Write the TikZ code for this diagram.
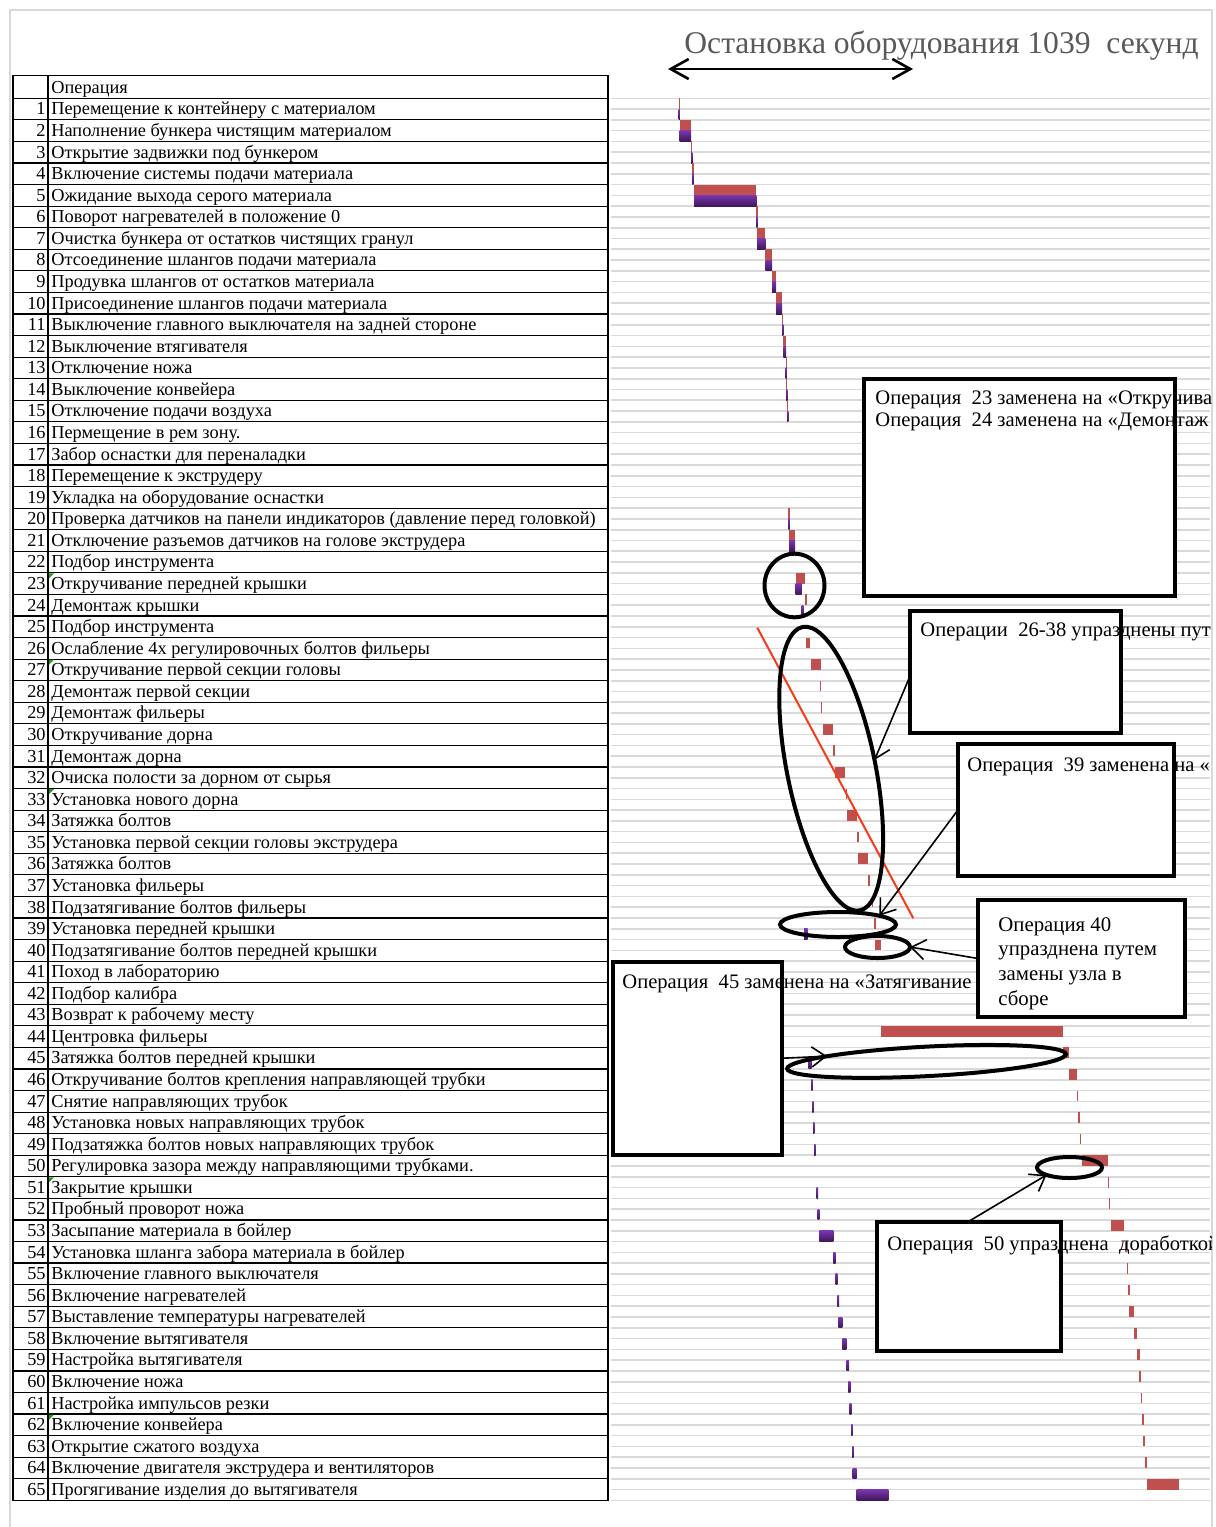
\documentclass[tikz,border=0pt]{standalone}
\usepackage{fontspec}
\setmainfont{Liberation Serif}
\usetikzlibrary{shapes.geometric,arrows.meta}
\definecolor{gridc}{HTML}{D9D9D9}
\definecolor{redbar}{HTML}{C0504D}
\definecolor{purbar}{HTML}{7A35B0}
\definecolor{purdark}{HTML}{3E1858}
\definecolor{titlec}{HTML}{595959}
\definecolor{redline}{HTML}{F53B1A}
\definecolor{xlgreen}{HTML}{1F9A1F}
\tikzset{
 tabline/.style={draw=black, line width=0.6pt},
 rowtxt/.style={anchor=base west, inner sep=0, font=\fontsize{9.15}{10}\selectfont},
 rownum/.style={anchor=base east, inner sep=0, font=\fontsize{9.15}{10}\selectfont},
 gridln/.style={draw=gridc, line width=0.8pt},
 redb/.style={fill=redbar},
 purb/.style={top color=purbar, bottom color=purdark},
 cbox/.style={rectangle, fill=white, draw=black, line width=2pt, inner sep=0, outer sep=0, anchor=north west},
 cborder/.style={draw=black, line width=2pt},
 ctext/.style={anchor=base west, inner sep=0, font=\fontsize{10.3}{12.3}\selectfont},
 ering/.style={ellipse, draw=black, line width=2pt, inner sep=0, outer sep=0},
 callarrow/.style={draw=black, line width=0.8pt, -{Straight Barb[length=7pt,width=10pt]}},
}
\begin{document}
\begin{tikzpicture}[x=0.5pt,y=-0.5pt]
\useasboundingbox (0,0) rectangle (1216,1527);
\fill[white] (0,0) rectangle (1216,1527);
% frame
\draw[gridc, line width=1pt] (10,1527) -- (10,10) -- (1212,10) -- (1212,1527);
% grid lines
\foreach \k in {0,...,130} {\draw[gridln] (611,{98.3+\k*10.785}) -- (1210,{98.3+\k*10.785});}
% table
\draw[tabline] (13,75.5) rectangle (608,1500.35);
\draw[tabline] (48,75.5) -- (48,1500.35);
\foreach \i in {1,...,65} {\draw[tabline] (13,{98.3+(\i-1)*21.57}) -- (608,{98.3+(\i-1)*21.57});}
\node[rowtxt] (hdr) at (51,93) {Операция};
\foreach \i/\t in {
1/Перемещение к контейнеру с материалом,
2/Наполнение бункера чистящим материалом,
3/Открытие задвижки под бункером,
4/Включение системы подачи материала,
5/Ожидание выхода серого материала,
6/Поворот нагревателей в положение 0,
7/Очистка бункера от остатков чистящих гранул,
8/Отсоединение шлангов подачи материала,
9/Продувка шлангов от остатков материала,
10/Присоединение шлангов подачи материала,
11/Выключение главного выключателя на задней стороне,
12/Выключение втягивателя,
13/Отключение ножа,
14/Выключение конвейера,
15/Отключение подачи воздуха,
16/Пермещение в рем зону.,
17/Забор оснастки для переналадки,
18/Перемещение к экструдеру,
19/Укладка на оборудование оснастки,
20/Проверка датчиков на панели индикаторов (давление перед головкой),
21/Отключение разъемов датчиков на голове экструдера,
22/Подбор инструмента,
23/Откручивание передней крышки,
24/Демонтаж крышки,
25/Подбор инструмента,
26/Ослабление 4х регулировочных болтов фильеры,
27/Откручивание первой секции головы,
28/Демонтаж первой секции,
29/Демонтаж фильеры,
30/Откручивание дорна,
31/Демонтаж дорна,
32/Очиска полости за дорном от сырья,
33/Установка нового дорна,
34/Затяжка болтов,
35/Установка первой секции головы экструдера,
36/Затяжка болтов,
37/Установка фильеры,
38/Подзатягивание болтов фильеры,
39/Установка передней крышки,
40/Подзатягивание болтов передней крышки,
41/Поход в лабораторию,
42/Подбор калибра,
43/Возврат к рабочему месту,
44/Центровка фильеры,
45/Затяжка болтов передней крышки,
46/Откручивание болтов крепления направляющей трубки,
47/Снятие направляющих трубок,
48/Установка новых направляющих трубок,
49/Подзатяжка болтов новых направляющих трубок,
50/Регулировка зазора между направляющими трубками.,
51/Закрытие крышки,
52/Пробный проворот ножа,
53/Засыпание материала в бойлер,
54/Установка шланга забора материала в бойлер,
55/Включение главного выключателя,
56/Включение нагревателей,
57/Выставление температуры нагревателей,
58/Включение вытягивателя,
59/Настройка вытягивателя,
60/Включение ножа,
61/Настройка импульсов резки,
62/Включение конвейера,
63/Открытие сжатого воздуха,
64/Включение двигателя экструдера и вентиляторов,
65/Прогягивание изделия до вытягивателя}
{
 \node[rowtxt] (t\i) at (51,{98.3+(\i-1)*21.57+16.6}) {\t};
 \node[rownum] (n\i) at (46,{98.3+(\i-1)*21.57+16.6}) {\i};
}
% green error marks
\foreach \r in {23,27,33,51,62} {\fill[xlgreen] (49,{98.3+(\r-1)*21.57+0.5}) -- ++(5,0) -- ++(-5,5) -- cycle;}
% bars common to both plans
\foreach \r/\a/\b in {1/678.5/679.8, 2/679.5/691, 3/691/692.3, 4/692.3/693.5, 5/694/756.3, 6/756.3/757.5,
 7/757/765.3, 8/765.3/772, 9/772/776, 10/776/782, 11/782/783.3, 12/783.3/786, 13/785.7/786.9,
 14/786.2/787.4, 15/787.2/788.4, 20/788.3/789.5, 21/789/795}
{
 \fill[redb] (\a,{98.3+(\r-1)*21.57}) rectangle (\b,{98.3+(\r-1)*21.57+10.785});
 \shade[purb] (\a,{98.3+(\r-1)*21.57+10.785}) rectangle (\b,{98.3+(\r-1)*21.57+21.57});
}
% red bars (before)
\foreach \r/\a/\b in {23/795.7/805.3, 24/805.3/806.6, 26/805.7/810, 27/810.7/820.7, 28/820/821.3, 29/820.7/822,
 30/823/833.3, 31/833.3/834.6, 32/834.7/845, 33/845.5/846.8, 34/847/857, 35/857.2/858.5, 36/857.7/867.7,
 37/868.3/870, 38/871.7/873.3, 39/874.3/875.7, 40/875/880.5, 44/880.7/1062.7, 45/1062.7/1069, 46/1069/1076.7,
 47/1077/1078.3, 48/1078.3/1079.6, 49/1079.7/1081.2, 50/1081.7/1107.7, 51/1107.7/1109, 52/1108.7/1110,
 53/1110.7/1124, 54/1125/1127, 55/1126.7/1128.3, 56/1128/1129.7, 57/1129.3/1134.3, 58/1134.3/1137.3,
 59/1137.3/1140, 60/1139.3/1141, 61/1140.7/1142.3, 62/1142/1143.7, 63/1143/1144.7, 64/1144.7/1147.3,
 65/1147.3/1179.3}
{\fill[redb] (\a,{98.3+(\r-1)*21.57}) rectangle (\b,{98.3+(\r-1)*21.57+10.785});}
% purple bars (after)
\foreach \r/\a/\b in {23/795.7/801.7, 24/801.7/803.3, 39/804/807.7, 45/808.3/811.7, 46/811.3/812.6,
 47/812.3/813.6, 48/813/814.3, 49/814/815.5, 51/816.5/818, 52/817.7/819.3, 53/819.3/833.3, 54/833.3/835.7,
 55/835.7/837.3, 56/837.3/839, 57/838.3/842.3, 58/842.3/846.3, 59/846.3/849, 60/848.3/850.3,
 61/849.7/851.3, 62/851/852.7, 63/852/853.7, 64/852.7/856.7, 65/856.7/888.3}
{\shade[purb] (\a,{98.3+(\r-1)*21.57+10.785}) rectangle (\b,{98.3+(\r-1)*21.57+21.57});}
% red trend line
\draw[redline, line width=1pt] (757.3,627.7) -- (913.3,918.3);
% callout boxes
\node[cbox, minimum width=155.5pt, minimum height=108.5pt] (boxA) at (864,379) {};
\node[cbox, minimum width=105.5pt, minimum height=60.75pt] (boxB) at (909.5,611) {};
\node[cbox, minimum width=108pt, minimum height=66.15pt] (boxC) at (958,743.7) {};
\node[cbox, minimum width=84.25pt, minimum height=96.75pt] (boxE) at (613,961.5) {};
\node[cbox, minimum width=92pt, minimum height=64.5pt] (boxF) at (876.5,1221.5) {};
\begin{scope}
\clip (0,0) rectangle (1211,1527);
\node[ctext] (txA1) at (875,404.5) {Операция\ \ 23 заменена на «Откручива};
\node[ctext] (txA2) at (875,426) {Операция\ \ 24 заменена на «Демонтаж};
\node[ctext] (txB) at (920,636.5) {Операции\ \ 26-38 упразднены пут};
\node[ctext] (txC) at (967,771) {Операция\ \ 39 заменена на «};
\node[ctext] (txE) at (622,988) {Операция\ \ 45 заменена на «Затягивание};
\node[ctext] (txF) at (887,1250) {Операция\ \ 50 упразднена\ \ доработкой};
\end{scope}
\draw[cborder] (boxA.north west) rectangle (boxA.south east);
\draw[cborder] (boxB.north west) rectangle (boxB.south east);
\draw[cborder] (boxC.north west) rectangle (boxC.south east);
\draw[cborder] (boxE.north west) rectangle (boxE.south east);
\draw[cborder] (boxF.north west) rectangle (boxF.south east);
\node[cbox, minimum width=103.5pt, minimum height=58.5pt] (boxD) at (978,900) {};
\begin{scope}
\clip (978,900) rectangle (1185,1017);
\node[ctext, font=\fontsize{10.4}{12.35}\selectfont, align=left, anchor=north west] (txD) at (998,917) {Операция 40\\упразднена путем\\замены узла в\\сборе};
\end{scope}
\draw[cborder] (boxD.north west) rectangle (boxD.south east);
% ellipses
\node[ering, minimum width=30pt, minimum height=31.8pt] (e23) at (794.5,585.5) {};
\node[ering, minimum width=144.6pt, minimum height=44.2pt, rotate=101.4] (e26) at (831.2,768.7) {};
\node[ering, minimum width=58pt, minimum height=12.5pt] (e39) at (838,924.5) {};
\node[ering, minimum width=32.5pt, minimum height=11pt] (e40) at (877.5,947) {};
\node[ering, minimum width=139.5pt, minimum height=14.75pt, rotate=3] (e45) at (926.5,1061.4) {};
\node[ering, minimum width=32.5pt, minimum height=10.5pt] (e50) at (1069.5,1167.5) {};
% connectors
\draw[callarrow] ([yshift=-2.75pt]boxB.west) -- (e26.south);
\draw[callarrow] (boxC.west) -- (e39.12);
\draw[callarrow] (boxD.west) -- (e40.east);
\draw[callarrow] (boxE.east) -- (e45.174);
\draw[callarrow] (boxF.north) -- (e50.198);
% title and duration arrow
\node[anchor=base west, inner sep=0, text=titlec, font=\fontsize{15.8}{18}\selectfont] (title) at (684,53) {Остановка оборудования 1039\ \ секунд};
\coordinate (durL) at (668,69);
\coordinate (durR) at (913,69);
\draw[line width=1.3pt, {Straight Barb[length=9pt,width=10pt]}-{Straight Barb[length=9pt,width=10pt]}] (durL) -- (durR);
\end{tikzpicture}
\end{document}
